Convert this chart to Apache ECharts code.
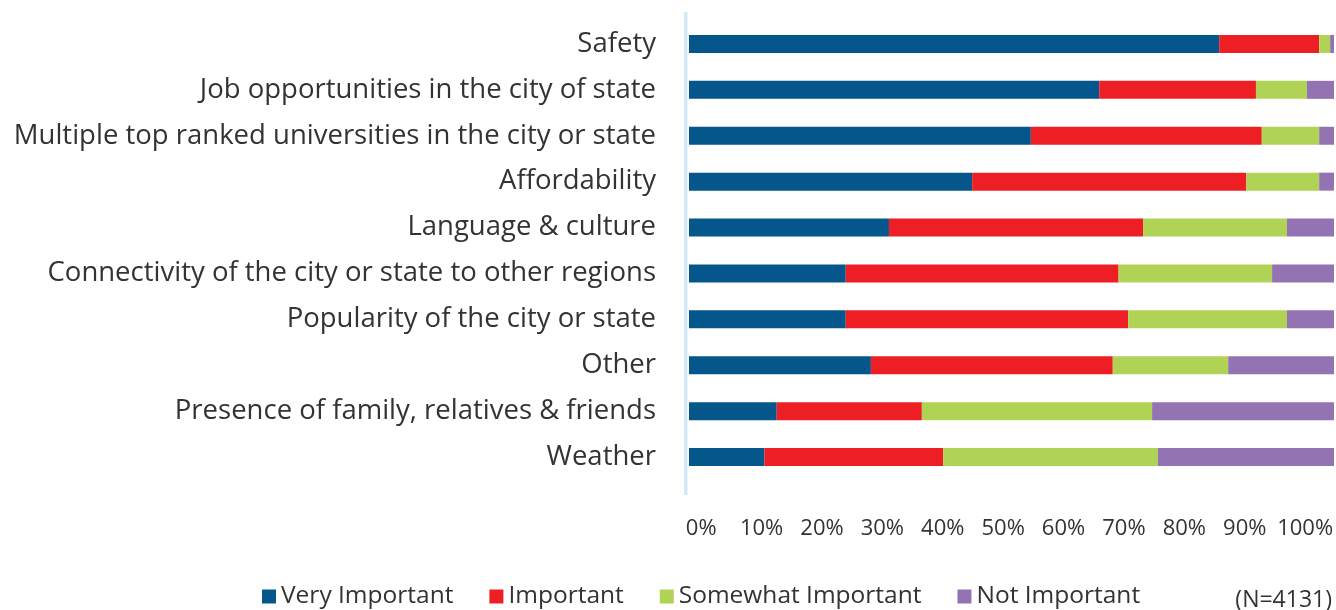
<!DOCTYPE html>
<html>
<head>
<meta charset="utf-8">
<script src="https://cdn.jsdelivr.net/npm/echarts@6/dist/echarts.min.js"></script>
<style>
  html, body { margin: 0; padding: 0; background: #fff; }
  #main { width: 1336px; height: 610px; }
</style>
</head>
<body>
<div id="main"></div>
<script>
// categories, top to bottom
const categories = [
  'Safety',
  'Job opportunities in the city of state',
  'Multiple top ranked universities in the city or state',
  'Affordability',
  'Language & culture',
  'Connectivity of the city or state to other regions',
  'Popularity of the city or state',
  'Other',
  'Presence of family, relatives & friends',
  'Weather'
]

// shares in percent
const veryImportant = [82.2, 63.6, 53.0, 43.9, 31.0, 24.3, 24.3, 28.2, 13.6, 11.7]
const important = [15.5, 24.3, 35.8, 42.5, 39.4, 42.3, 43.8, 37.5, 22.5, 27.7]
const somewhatImportant = [1.7, 7.9, 8.9, 11.3, 22.3, 23.8, 24.6, 17.9, 35.7, 33.3]
const notImportant = [0.6, 4.2, 2.3, 2.3, 7.3, 9.6, 7.3, 16.4, 28.2, 27.3]

const tickLabels = ['0%', '10%', '20%', '30%', '40%', '50%', '60%', '70%', '80%', '90%', '100%']
const sampleNote = '(N=4131)'

const font = 'Open Sans'
const textColor = '#333333'

const chart = echarts.init(document.getElementById('main'))

const makeSeries = (name, data, color) => ({
  name: name,
  type: 'bar',
  stack: 'total',
  barWidth: 18,
  data: data,
  itemStyle: { color: color },
  emphasis: { disabled: true }
})

const option = {
  animation: false,
  textStyle: { fontFamily: font },
  legend: {
    top: 579,
    left: 257,
    itemWidth: 14,
    itemHeight: 14,
    itemGap: 36,
    icon: 'rect',
    textStyle: { fontSize: 24.5, color: textColor, fontFamily: font },
    data: ['Very Important', 'Important', 'Somewhat Important', 'Not Important']
  },
  graphic: [
    {
      // light blue axis rule left of the bars
      type: 'rect',
      left: 684,
      top: 12,
      shape: { width: 3.5, height: 483 },
      style: { fill: '#d3eaf6' },
      silent: true
    },
    {
      type: 'text',
      right: 4,
      bottom: -2,
      style: { text: sampleNote, fontSize: 23, fill: textColor, fontFamily: font }
    }
  ],
  grid: [
    { left: 689, right: 2, top: 21, height: 459 },
    // label strip for the percentage ticks
    { left: 671, width: 666, top: 482, height: 30 }
  ],
  xAxis: [
    {
      type: 'value',
      min: 0,
      max: 100,
      interval: 10,
      axisLabel: { show: false },
      axisLine: { show: false },
      axisTick: { show: false },
      splitLine: { show: false }
    },
    {
      type: 'category',
      gridIndex: 1,
      data: tickLabels,
      position: 'bottom',
      axisLine: { show: false },
      axisTick: { show: false },
      axisLabel: { fontSize: 22, color: textColor, fontFamily: font, margin: 6, interval: 0 }
    }
  ],
  yAxis: [
    {
      type: 'category',
      inverse: true,
      data: categories,
      axisLine: { show: false },
      axisTick: { show: false },
      axisLabel: { fontSize: 27.5, color: textColor, fontFamily: font, margin: 33 }
    },
    {
      type: 'value',
      gridIndex: 1,
      show: false
    }
  ],
  series: [
    makeSeries('Very Important', veryImportant, '#05568a'),
    makeSeries('Important', important, '#ed1f24'),
    makeSeries('Somewhat Important', somewhatImportant, '#b1d355'),
    makeSeries('Not Important', notImportant, '#9473b3')
  ]
}

chart.setOption(option)
</script>
</body>
</html>
